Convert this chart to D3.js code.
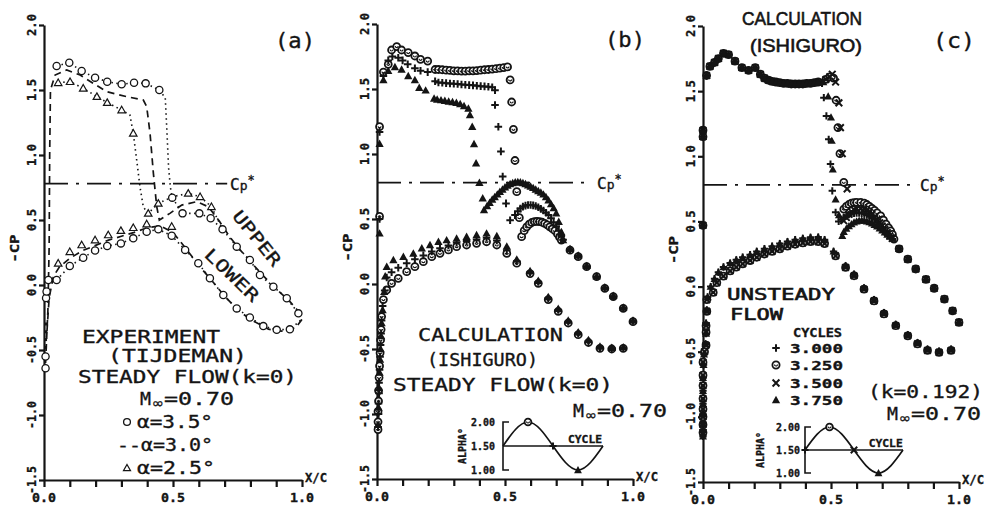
<!DOCTYPE html>
<html><head><meta charset="utf-8">
<script src="https://cdn.jsdelivr.net/npm/d3@7"></script>
<style>
body{margin:0;background:#fff}
svg{display:block}
text{font-family:"DejaVu Sans Mono","Liberation Mono",monospace;fill:#141414;stroke:#141414;stroke-width:0.35}
</style></head>
<body><svg id="chart" width="989" height="508"></svg>
<script>
// ---------------- DATA ----------------
const xTicks = [0,0.1,0.2,0.3,0.4,0.5,0.6,0.7,0.8,0.9,1.0];
const xTickLabels = {"0":"0.0","0.5":"0.5","1":"1.0"};
const yTicks = [-1.5,-1.0,-0.5,0,0.5,1.0,1.5,2.0];
const yTickLabels = ["-1.5","-1.0","-0.5","0.0","0.5","1.0","1.5","2.0"];
const cpStar = 0.78;

// Panel (a) experiment (Tijdeman)
const aCirc35Upper = [[0.049,1.685],[0.098,1.71],[0.146,1.646],[0.198,1.595],[0.245,1.564],[0.301,1.544],[0.349,1.556],[0.394,1.551],[0.447,1.50],
  [0.497,0.672],[0.537,0.551],[0.602,0.551],[0.646,0.513],[0.692,0.428],[0.747,0.295],[0.798,0.192],[0.837,0.077],[0.889,-0.013],[0.941,-0.102],[0.986,-0.218]];
const aCirc35Lower = [[0.006,-0.64],[0.006,-0.55],[0.008,-0.1],[0.01,-0.05],[0.017,0.038],[0.049,0.038],[0.1,0.146],[0.152,0.21],[0.198,0.265],[0.245,0.30],[0.298,0.32],
  [0.346,0.359],[0.398,0.41],[0.443,0.428],[0.495,0.379],[0.547,0.27],[0.598,0.167],[0.643,0.052],[0.695,-0.077],[0.747,-0.18],[0.798,-0.25],[0.85,-0.316],[0.902,-0.345],[0.953,-0.341]];
const aTri25Upper = [[0.055,1.556],[0.101,1.564],[0.152,1.513],[0.205,1.449],[0.245,1.403],[0.301,1.346],[0.346,1.167],
  [0.404,0.551],[0.443,0.628],[0.559,0.705],[0.605,0.679],[0.649,0.602]];
const aTri25Lower = [[0.055,0.167],[0.1,0.256],[0.146,0.308],[0.198,0.346],[0.249,0.385],[0.298,0.418],[0.346,0.441],[0.398,0.469],[0.495,0.45]];
const aLE25 = [[0.006,-0.3],[0.006,-0.36],[0.006,-0.42],[0.006,-0.48]];
const aDot35 = [[0.049,1.685],[0.098,1.71],[0.146,1.646],[0.198,1.595],[0.245,1.564],[0.301,1.544],[0.349,1.556],[0.394,1.551],[0.447,1.50],[0.47,1.44],
  [0.476,1.2],[0.483,0.9],[0.49,0.75],[0.497,0.672],[0.537,0.551],[0.602,0.551],[0.646,0.513],[0.692,0.428],[0.747,0.295],[0.798,0.192],[0.837,0.077],
  [0.889,-0.013],[0.941,-0.102],[0.986,-0.218],[0.995,-0.27],[0.966,-0.32],[0.953,-0.341],[0.902,-0.345],[0.85,-0.316],[0.798,-0.25],[0.747,-0.18],
  [0.695,-0.077],[0.643,0.052],[0.598,0.167],[0.547,0.27],[0.495,0.379],[0.443,0.428],[0.398,0.41],[0.346,0.359],[0.298,0.32],[0.245,0.30],[0.198,0.265],[0.152,0.21],[0.1,0.146],[0.049,0.038]];
const aDot25 = [[0.055,1.556],[0.101,1.564],[0.152,1.513],[0.205,1.449],[0.245,1.403],[0.301,1.346],[0.333,1.308],[0.346,1.167],[0.36,0.95],[0.372,0.756],
  [0.385,0.6],[0.404,0.551],[0.443,0.628],[0.5,0.68],[0.559,0.705],[0.605,0.679],[0.649,0.602],[0.692,0.428]];
const aDash30 = [[0.006,-0.6],[0.015,-0.2],[0.02,0.3],[0.022,1.0],[0.025,1.5],[0.043,1.615],[0.088,1.654],[0.14,1.615],[0.191,1.551],[0.243,1.487],[0.32,1.449],
  [0.385,1.423],[0.398,1.372],[0.411,1.167],[0.424,0.859],[0.437,0.602],[0.447,0.5],[0.488,0.551],[0.534,0.615],[0.592,0.641],[0.637,0.602],[0.68,0.49],
  [0.72,0.37],[0.76,0.27],[0.8,0.18],[0.85,0.07],[0.9,-0.03],[0.95,-0.12],[0.985,-0.2],[0.998,-0.27],[0.975,-0.33],[0.92,-0.355],[0.87,-0.34],[0.8,-0.265],
  [0.75,-0.19],[0.7,-0.085],[0.65,0.035],[0.6,0.15],[0.55,0.28],[0.5,0.405],[0.45,0.455],[0.4,0.44],[0.35,0.405],[0.3,0.375],[0.25,0.345],[0.2,0.305],
  [0.15,0.265],[0.1,0.205],[0.06,0.14],[0.036,0.064],[0.02,-0.1],[0.01,-0.4]];

// Panel (b) steady calculation (Ishiguro): ⊙ alpha 2.0, + alpha 1.5, ▲ alpha 1.0
const bCircUpper = [[0.01,0.52],[0.01,1.21],[0.025,1.63],[0.044,1.69],[0.057,1.8],[0.077,1.826],[0.096,1.8],[0.122,1.78],[0.148,1.754],[0.17,1.728],[0.198,1.715],[0.227,1.65],
  [0.24,1.65],[0.255,1.648],[0.27,1.645],[0.285,1.643],[0.3,1.64],[0.315,1.64],[0.33,1.638],[0.345,1.638],[0.36,1.64],[0.375,1.64],[0.39,1.642],[0.405,1.645],
  [0.42,1.648],[0.435,1.65],[0.45,1.653],[0.465,1.656],[0.48,1.66],[0.495,1.665],[0.51,1.67],
  [0.52,1.57],[0.526,1.4],[0.533,1.19],[0.539,0.95],[0.546,0.71],[0.556,0.51],
  [0.565,0.364],[0.575,0.41],[0.585,0.44],[0.595,0.46],[0.605,0.473],[0.615,0.48],[0.625,0.481],[0.635,0.48],[0.645,0.475],[0.655,0.466],[0.665,0.455],
  [0.675,0.44],[0.685,0.425],[0.695,0.41],[0.705,0.385],[0.713,0.36],[0.72,0.338],
  [0.754,0.26],[0.786,0.21],[0.819,0.133],[0.858,0.056],[0.89,-0.033],[0.923,-0.097],[0.962,-0.187],[1.0,-0.29]];
const bPlusUpper = [[0.01,0.5],[0.01,1.17],[0.025,1.6],[0.044,1.72],[0.06,1.75],[0.083,1.74],[0.1,1.72],[0.12,1.69],[0.148,1.66],[0.17,1.64],[0.198,1.63],[0.227,1.56],
  [0.24,1.55],[0.255,1.548],[0.27,1.545],[0.285,1.543],[0.3,1.54],[0.315,1.538],[0.33,1.535],[0.345,1.533],[0.36,1.53],[0.375,1.528],[0.39,1.525],[0.405,1.522],
  [0.42,1.52],[0.435,1.517],[0.45,1.513],
  [0.461,1.49],[0.461,1.377],[0.474,1.21],[0.484,1.02],[0.491,0.826],[0.504,0.62],[0.52,0.49],
  [0.539,0.53],[0.55,0.56],[0.56,0.58],[0.57,0.595],[0.58,0.603],[0.59,0.607],[0.6,0.608],[0.61,0.605],[0.62,0.6],[0.63,0.59],[0.64,0.578],[0.65,0.565],
  [0.66,0.548],[0.67,0.53],[0.68,0.505],[0.69,0.475],[0.7,0.445],[0.71,0.41],[0.72,0.37],[0.727,0.34],
  [0.754,0.265],[0.786,0.215],[0.819,0.137],[0.858,0.058],[0.89,-0.03],[0.923,-0.094],[0.962,-0.184],[1.0,-0.285]];
const bTriUpper = [[0.01,0.39],[0.01,1.08],[0.025,1.57],[0.044,1.64],[0.07,1.67],[0.096,1.65],[0.122,1.6],[0.148,1.57],[0.165,1.51],[0.19,1.49],[0.223,1.428],
  [0.235,1.42],[0.25,1.415],[0.265,1.41],[0.28,1.405],[0.295,1.4],[0.31,1.395],[0.325,1.385],[0.34,1.37],[0.357,1.35],
  [0.363,1.3],[0.372,1.21],[0.379,1.077],[0.387,0.93],[0.4,0.78],[0.413,0.66],[0.418,0.57],
  [0.43,0.6],[0.44,0.625],[0.45,0.65],[0.46,0.67],[0.47,0.69],[0.48,0.71],[0.49,0.728],[0.5,0.745],[0.51,0.758],[0.52,0.77],[0.53,0.778],[0.54,0.784],
  [0.55,0.786],[0.56,0.783],[0.57,0.778],[0.58,0.77],[0.59,0.76],[0.6,0.75],[0.61,0.74],[0.62,0.728],[0.63,0.716],[0.64,0.705],[0.65,0.69],[0.66,0.67],
  [0.67,0.645],[0.68,0.615],[0.69,0.585],[0.7,0.545],[0.71,0.48],[0.72,0.4],[0.727,0.338],
  [0.754,0.27],[0.786,0.22],[0.819,0.14],[0.858,0.06],[0.89,-0.025],[0.923,-0.09],[0.962,-0.18],[1.0,-0.28]];
const bCircLower = [[0.004,-1.12],[0.004,-1.06],[0.004,-0.98],[0.006,-0.9],[0.006,-0.82],[0.008,-0.72],[0.01,-0.63],[0.012,-0.53],[0.014,-0.43],[0.016,-0.35],
  [0.018,-0.25],[0.025,-0.12],[0.038,-0.046],[0.057,0.005],[0.083,0.044],[0.116,0.095],[0.148,0.133],[0.181,0.172],[0.214,0.21],[0.246,0.236],[0.279,0.262],
  [0.311,0.287],[0.35,0.3],[0.389,0.313],[0.428,0.325],[0.468,0.3],[0.507,0.235],[0.546,0.16],[0.598,0.08],[0.63,0.005],[0.669,-0.12],[0.708,-0.21],
  [0.747,-0.3],[0.786,-0.39],[0.826,-0.45],[0.871,-0.495],[0.917,-0.5],[0.962,-0.495]];
const bPlusLower = [[0.004,-1.1],[0.006,-1.0],[0.006,-0.92],[0.008,-0.84],[0.008,-0.76],[0.01,-0.66],[0.012,-0.56],[0.014,-0.47],[0.016,-0.38],[0.018,-0.28],
  [0.022,-0.17],[0.03,-0.05],[0.038,0.05],[0.057,0.09],[0.083,0.125],[0.116,0.16],[0.148,0.19],[0.181,0.22],[0.214,0.25],[0.246,0.275],[0.279,0.297],
  [0.311,0.317],[0.35,0.33],[0.389,0.343],[0.428,0.355],[0.468,0.335],[0.507,0.26],[0.546,0.175],[0.598,0.09],[0.63,0.015],[0.669,-0.11],[0.708,-0.2],
  [0.747,-0.29],[0.786,-0.38],[0.826,-0.44],[0.871,-0.488],[0.917,-0.495],[0.962,-0.49]];
const bTriLower = [[0.004,-1.08],[0.006,-0.95],[0.008,-0.8],[0.01,-0.68],[0.012,-0.58],[0.014,-0.5],[0.016,-0.4],[0.018,-0.3],[0.022,-0.2],[0.028,-0.06],
  [0.032,0.06],[0.038,0.133],[0.064,0.185],[0.103,0.21],[0.142,0.236],[0.175,0.275],[0.207,0.3],[0.24,0.325],[0.272,0.338],[0.311,0.351],[0.35,0.364],
  [0.389,0.377],[0.428,0.39],[0.468,0.37],[0.507,0.29],[0.546,0.19],[0.598,0.1],[0.63,0.025],[0.669,-0.1],[0.708,-0.19],[0.747,-0.28],[0.786,-0.37],
  [0.826,-0.43],[0.871,-0.48],[0.917,-0.49],[0.962,-0.485]];

// Panel (c) unsteady: cycles 3.000 (+), 3.250 (⊙), 3.500 (×), 3.750 (▲)
const cUpperFront = [[0.0,0.47],[0.0,1.15],[0.0,1.2],[0.014,1.62],[0.027,1.69],[0.045,1.72],[0.06,1.75],[0.08,1.79],[0.1,1.78],[0.125,1.73],[0.152,1.68],
  [0.178,1.66],[0.204,1.68],[0.224,1.63],[0.24,1.6],[0.255,1.585],[0.27,1.575],[0.285,1.57],[0.3,1.565],[0.315,1.56],[0.33,1.56],[0.345,1.555],[0.36,1.555],
  [0.375,1.555],[0.39,1.555],[0.405,1.56],[0.42,1.56],[0.435,1.565],[0.45,1.57]];
const cPlusShock = [[0.465,1.56],[0.472,1.45],[0.482,1.31],[0.491,1.13],[0.498,0.94],[0.505,0.735],[0.518,0.57],[0.53,0.5],[0.54,0.515],[0.55,0.53],[0.56,0.542],
  [0.57,0.552],[0.58,0.558],[0.59,0.562],[0.6,0.564],[0.61,0.564],[0.62,0.562],[0.63,0.557],[0.64,0.55],[0.65,0.54],[0.66,0.527],[0.67,0.512],[0.68,0.494],
  [0.69,0.474],[0.7,0.452],[0.71,0.43],[0.72,0.408],[0.73,0.386],[0.74,0.366]];
const cCircShock = [[0.48,1.59],[0.495,1.61],[0.51,1.6],[0.52,1.43],[0.527,1.22],[0.535,1.02],[0.55,0.8],[0.55,0.595],[0.56,0.615],[0.57,0.63],[0.58,0.64],
  [0.59,0.645],[0.6,0.647],[0.616,0.646],[0.63,0.64],[0.64,0.63],[0.65,0.615],[0.66,0.6],[0.67,0.585],[0.68,0.565],[0.694,0.543],[0.705,0.51],[0.715,0.48],
  [0.725,0.45],[0.733,0.428],[0.74,0.4],[0.746,0.365]];
const cCrossShock = [[0.48,1.59],[0.495,1.61],[0.505,1.63],[0.518,1.57],[0.531,1.41],[0.537,1.22],[0.544,1.02],[0.563,0.75],[0.55,0.505],[0.56,0.53],[0.57,0.555],
  [0.58,0.575],[0.59,0.59],[0.6,0.598],[0.616,0.6],[0.63,0.595],[0.64,0.585],[0.65,0.57],[0.66,0.555],[0.67,0.535],[0.68,0.515],[0.69,0.49],[0.7,0.465],
  [0.71,0.44],[0.72,0.415],[0.73,0.39],[0.74,0.37]];
const cTriShock = [[0.47,1.57],[0.489,1.46],[0.5,1.3],[0.503,1.12],[0.507,0.9],[0.518,0.67],[0.531,0.55],[0.544,0.39],[0.55,0.42],[0.56,0.445],[0.57,0.465],
  [0.58,0.48],[0.59,0.493],[0.6,0.502],[0.61,0.507],[0.62,0.508],[0.63,0.506],[0.64,0.502],[0.65,0.495],[0.66,0.486],[0.67,0.475],[0.68,0.462],[0.69,0.448],
  [0.7,0.433],[0.71,0.417],[0.72,0.4],[0.73,0.385],[0.74,0.368]];
const cUpperTE = [[0.766,0.29],[0.8,0.21],[0.831,0.135],[0.871,0.055],[0.903,-0.013],[0.943,-0.096],[0.975,-0.186],[1.0,-0.275]];
const cLowerHigh = [[0.0,-1.15],[0.0,-1.1],[0.0,-1.05],[0.0,-0.98],[0.0,-0.9],[0.0,-0.8],[0.0,-0.7],[0.002,-0.6],[0.004,-0.52],[0.01,-0.44],[0.012,-0.36],
  [0.012,-0.28],[0.015,-0.18],[0.018,-0.08],[0.03,0.0],[0.045,0.06],[0.06,0.11],[0.08,0.15],[0.106,0.18],[0.13,0.205],[0.155,0.225],[0.184,0.245],[0.21,0.27],
  [0.24,0.29],[0.27,0.31],[0.3,0.33],[0.33,0.345],[0.36,0.36],[0.39,0.37],[0.42,0.378],[0.45,0.38],[0.475,0.36],[0.51,0.27],[0.557,0.16],[0.59,0.095],
  [0.629,-0.01],[0.668,-0.1],[0.707,-0.2],[0.753,-0.29],[0.8,-0.37],[0.838,-0.43],[0.877,-0.48],[0.922,-0.495],[0.969,-0.48]];
const cLowerLow = [[0.0,-1.12],[0.0,-1.06],[0.0,-1.0],[0.0,-0.94],[0.0,-0.86],[0.0,-0.76],[0.0,-0.68],[0.0,-0.58],[0.006,-0.5],[0.012,-0.45],[0.012,-0.35],
  [0.012,-0.3],[0.015,-0.19],[0.015,-0.1],[0.04,-0.045],[0.054,0.03],[0.08,0.08],[0.106,0.12],[0.13,0.15],[0.155,0.175],[0.184,0.2],[0.21,0.225],[0.24,0.25],
  [0.27,0.27],[0.3,0.29],[0.33,0.31],[0.36,0.325],[0.39,0.335],[0.42,0.345],[0.45,0.345],[0.475,0.33],[0.518,0.236],[0.557,0.147],[0.59,0.083],[0.629,-0.02],
  [0.668,-0.11],[0.707,-0.21],[0.753,-0.3],[0.8,-0.378],[0.838,-0.44],[0.877,-0.49],[0.922,-0.505],[0.969,-0.49]];

// Inset: incidence cycle
const insetCycle = [3.0,3.25,3.5,3.75,4.0];
const insetAlpha = [1.5,2.0,1.5,1.0,1.5];
const insetTicks = [1.0,1.5,2.0];
const insetTickLabels = ["1.00","1.50","2.00"];
const cycleLegend = ["3.000","3.250","3.500","3.750"];

// ---------------- DRAWING ----------------
const svg = d3.select("#chart");
const INK = "#141414";

const layout = {
  a:{x0:44,x1:302,yT:25,yB:480},
  b:{x0:377,x1:633,yT:24,yB:479},
  c:{x0:703,x1:959,yT:26,yB:482}
};

function applyOpt(t, opt, size){
  if(opt.width){ t.attr("textLength",opt.width).attr("lengthAdjust","spacingAndGlyphs"); }
  if(opt.bold) t.attr("font-weight","bold");
  if(opt.family) t.style("font-family",opt.family);
  if(opt.sw!==undefined) t.style("stroke-width",opt.sw);
}
function txt(g, s, left, cy, opt={}){
  const size = opt.size || 18;
  const t = g.append("text").attr("x",left).attr("y",cy + size*0.36).attr("font-size",size).text(s);
  applyOpt(t,opt,size);
  if(opt.anchor) t.attr("text-anchor",opt.anchor);
  return t;
}
function block(g, pieces, size, opt={}){
  const t = g.append("text").attr("font-size",size);
  applyOpt(t,{bold:opt.bold,family:opt.family,sw:opt.sw},size);
  pieces.forEach(p=>{
    const sp = t.append("tspan").attr("x",p[1]).attr("y",p[2]+size*0.36).text(p[0]);
    if(p[3]) sp.attr("textLength",p[3]).attr("lengthAdjust","spacingAndGlyphs");
  });
  return t;
}

function marker(g, type, cx, cy, s){
  s = s || 3.6;
  if(type==="oc"){
    g.append("circle").attr("cx",cx).attr("cy",cy).attr("r",s).attr("fill","#fff").attr("stroke",INK).attr("stroke-width",1.3);
  } else if(type==="ot"){
    const h=s*1.1;
    g.append("path").attr("d",`M${cx},${cy-h}L${cx+h},${cy+h*0.75}L${cx-h},${cy+h*0.75}Z`).attr("fill","#fff").attr("stroke",INK).attr("stroke-width",1.2);
  } else if(type==="dc"){
    g.append("circle").attr("cx",cx).attr("cy",cy).attr("r",s).attr("fill","#fff").attr("stroke",INK).attr("stroke-width",1.8);
    g.append("path").attr("d",`M${cx-1.5},${cy-0.5}A1.5,1.5 0 0 0 ${cx+1.5},${cy-0.5}`).attr("fill","none").attr("stroke",INK).attr("stroke-width",1.2);
  } else if(type==="p"){
    const h=s*1.05;
    g.append("path").attr("d",`M${cx-h},${cy}H${cx+h}M${cx},${cy-h}V${cy+h}`).attr("stroke",INK).attr("stroke-width",2);
  } else if(type==="x"){
    const h=s*0.95;
    g.append("path").attr("d",`M${cx-h},${cy-h}L${cx+h},${cy+h}M${cx-h},${cy+h}L${cx+h},${cy-h}`).attr("stroke",INK).attr("stroke-width",2);
  } else if(type==="ft"){
    const h=s*1.15;
    g.append("path").attr("d",`M${cx},${cy-h}L${cx+h},${cy+h*0.8}L${cx-h},${cy+h*0.8}Z`).attr("fill",INK);
  } else if(type==="sq"){
    g.append("rect").attr("x",cx-s/2).attr("y",cy-s/2).attr("width",s).attr("height",s).attr("fill",INK);
  }
}

function makePanel(key){
  const L = layout[key];
  const x = d3.scaleLinear().domain([0,1]).range([L.x0,L.x1]);
  const y = d3.scaleLinear().domain([-1.5,2]).range([L.yB,L.yT]);
  const g = svg.append("g");
  const xa = g.append("g").attr("transform",`translate(0,${L.yB})`)
    .call(d3.axisBottom(x).tickValues(xTicks).tickSize(7).tickSizeOuter(0).tickFormat(""));
  xa.select(".domain").attr("stroke",INK).attr("stroke-width",2.2);
  xa.selectAll(".tick line").attr("stroke",INK).attr("stroke-width",2.2);
  Object.keys(xTickLabels).forEach(k=>{
    g.append("text").attr("x",x(+k)).attr("y",L.yB+22).attr("text-anchor","middle")
      .attr("font-size",13).attr("font-weight","bold").attr("textLength",24).attr("lengthAdjust","spacingAndGlyphs").text(xTickLabels[k]);
  });
  const ya = g.append("g").attr("transform",`translate(${L.x0},0)`)
    .call(d3.axisLeft(y).tickValues(yTicks).tickSize(5).tickSizeOuter(0).tickFormat(""));
  ya.select(".domain").attr("stroke",INK).attr("stroke-width",2.2);
  ya.selectAll(".tick line").attr("stroke",INK).attr("stroke-width",2.2);
  yTicks.forEach((v,i)=>{
    const lx = L.x0-13, ly = y(v);
    g.append("text").attr("transform",`translate(${lx+4.5},${ly}) rotate(-90)`).attr("text-anchor","middle")
      .attr("font-size",13).attr("font-weight","bold")
      .attr("textLength", yTickLabels[i].length>3?28:22).attr("lengthAdjust","spacingAndGlyphs").text(yTickLabels[i]);
  });
  g.append("text").attr("transform",`translate(${L.x0-25},${y(0.28)}) rotate(-90)`).attr("text-anchor","middle")
    .attr("font-size",13).attr("font-weight","bold").attr("textLength",28).attr("lengthAdjust","spacingAndGlyphs").text("-CP");
  txt(g,"X/C",L.x1+3,L.yB-3,{size:13,bold:true,width:22});
  return {g,x,y,L};
}

function cpLine(P, xEnd, labelLeft){
  const line = d3.line().x(d=>P.x(d[0])).y(d=>P.y(d[1]));
  P.g.append("path").attr("d",line([[0,cpStar],[xEnd,cpStar]])).attr("fill","none")
    .attr("stroke",INK).attr("stroke-width",1.7).attr("stroke-dasharray","24,8,3,8");
  const t = P.g.append("text").attr("x",labelLeft).attr("y",P.y(cpStar)+6).attr("font-size",16);
  t.append("tspan").text("C");
  t.append("tspan").attr("font-size",13).text("p");
  t.append("tspan").attr("font-size",12).attr("dy",-6).text("*");
}

function series(P, data, type, s){
  data.forEach(d=>marker(P.g, type, P.x(d[0]), P.y(d[1]), s));
}

function mach(g, left, cy){
  const t = g.append("text").attr("font-size",18);
  t.append("tspan").attr("x",left).attr("y",cy+6.5).attr("textLength",11).attr("lengthAdjust","spacingAndGlyphs").text("M");
  t.append("tspan").attr("x",left+12).attr("y",cy+10).attr("font-size",14).style("font-family","DejaVu Sans")
    .attr("textLength",12).attr("lengthAdjust","spacingAndGlyphs").text("∞");
  t.append("tspan").attr("x",left+24).attr("y",cy+6.5).attr("textLength",70).attr("lengthAdjust","spacingAndGlyphs").text("=0.70");
}

// ===== Panel (a) =====
const A = makePanel("a");
cpLine(A, 0.71, 230);
const lineA = d3.line().x(d=>A.x(d[0])).y(d=>A.y(d[1]));
A.g.append("path").attr("d",lineA(aDash30)).attr("fill","none").attr("stroke",INK).attr("stroke-width",1.7).attr("stroke-dasharray","7,5");
A.g.append("path").attr("d",lineA(aDot35)).attr("fill","none").attr("stroke",INK).attr("stroke-width",1.6).attr("stroke-dasharray","1.5,3.5");
A.g.append("path").attr("d",lineA(aDot25)).attr("fill","none").attr("stroke",INK).attr("stroke-width",1.6).attr("stroke-dasharray","1.5,3.5");
series(A, aLE25, "sq", 3);
series(A, aTri25Upper, "ot", 3.4);
series(A, aTri25Lower, "ot", 3.4);
series(A, aCirc35Upper, "oc", 3.6);
series(A, aCirc35Lower, "oc", 3.6);
txt(A.g,"(a)",275,40,{size:21,width:40});
block(A.g,[["EXPERIMENT",82,337,138],["(TIJDEMAN)",108,356,139],["STEADY FLOW(k=0)",78,377,219]],18);
mach(A.g,140,398);
marker(A.g,"oc",127,422,3.4);
marker(A.g,"ot",127,468,3.2);
block(A.g,[["α=3.5°",137,422,76],["--α=3.0°",117,445,96],["α=2.5°",137,468,78]],18);
A.g.append("text").attr("transform","translate(257,238) rotate(51)").attr("text-anchor","middle").attr("y",6)
  .attr("font-size",17).attr("textLength",66).attr("lengthAdjust","spacingAndGlyphs").text("UPPER");
A.g.append("text").attr("transform","translate(232,275) rotate(44)").attr("text-anchor","middle").attr("y",6)
  .attr("font-size",17).attr("textLength",68).attr("lengthAdjust","spacingAndGlyphs").text("LOWER");

// ===== Panel (b) =====
const B = makePanel("b");
cpLine(B, 0.83, 597);
series(B, bCircUpper, "dc", 3.5);
series(B, bCircLower, "dc", 3.5);
series(B, bPlusUpper, "p", 3.6);
series(B, bPlusLower, "p", 3.6);
series(B, bTriUpper, "ft", 3.6);
series(B, bTriLower, "ft", 3.6);
txt(B.g,"(b)",605,39,{size:21,width:40});
block(B.g,[["CALCULATION",418,335,145],["(ISHIGURO)",427,360,111],["STEADY FLOW(k=0)",393,385,220]],18);
mach(B.g,573,410);

function inset(g, x0, w, yTop, yBot, labelRight, alphaX, marks){
  const ix = d3.scaleLinear().domain([3.0,4.0]).range([x0,x0+w]);
  const iy = d3.scaleLinear().domain([1.0,2.0]).range([yBot,yTop]);
  g.append("path").attr("d",`M${x0+6},${iy(2.0)}H${x0}V${iy(1.0)}H${x0+6}`).attr("fill","none").attr("stroke",INK).attr("stroke-width",1.6);
  g.append("line").attr("x1",ix(3.0)).attr("x2",ix(4.0)).attr("y1",iy(1.5)).attr("y2",iy(1.5)).attr("stroke",INK).attr("stroke-width",1.5);
  const ln = d3.line().x((d,i)=>ix(insetCycle[i])).y((d,i)=>iy(insetAlpha[i])).curve(d3.curveNatural);
  g.append("path").attr("d",ln(insetCycle)).attr("fill","none").attr("stroke",INK).attr("stroke-width",1.7);
  const lt = g.append("text").attr("font-size",11).attr("font-weight","bold").attr("text-anchor","end");
  insetTicks.forEach((v,i)=>{
    lt.append("tspan").attr("x",labelRight).attr("y",iy(v)+4).attr("textLength",24).attr("lengthAdjust","spacingAndGlyphs").text(insetTickLabels[i]);
  });
  g.append("text").attr("transform",`translate(${alphaX},${iy(1.5)}) rotate(-90)`).attr("text-anchor","middle")
    .attr("font-size",11).attr("font-weight","bold").attr("textLength",36).attr("lengthAdjust","spacingAndGlyphs").text("ALPHA°");
  g.append("text").attr("x",ix(3.65)).attr("y",iy(1.5)-3).attr("font-size",11).attr("font-weight","bold")
    .attr("textLength",34).attr("lengthAdjust","spacingAndGlyphs").text("CYCLE");
  marks.forEach(m=>{ if(m[1]) marker(g, m[1], ix(insetCycle[m[0]]), iy(insetAlpha[m[0]]), 3.4); });
}
inset(B.g, 503, 100, 422, 470, 495, 466, [[1,"dc"],[2,"p"],[3,"ft"]]);

// ===== Panel (c) =====
const C = makePanel("c");
cpLine(C, 0.84, 920);
[["dc",cCircShock,cLowerLow],["x",cCrossShock,cLowerLow],["p",cPlusShock,cLowerHigh],["ft",cTriShock,cLowerHigh]].forEach(s=>{
  series(C, cUpperFront, s[0], 3.5);
  series(C, s[1], s[0], 3.5);
  series(C, cUpperTE, s[0], 3.5);
  series(C, s[2], s[0], 3.5);
});
block(C.g,[["CALCULATION",742,18,120],["(ISHIGURO)",750,45,112]],19,{family:"Liberation Sans",sw:0.6});
txt(C.g,"(c)",933,40,{size:21,width:42});
block(C.g,[["UNSTEADY",727,294,108],["FLOW",730,314,53]],16,{sw:0.6});
const cyc = [348,365,383,400];
block(C.g,[["CYCLES",793,332,49]].concat(cycleLegend.map((s,i)=>[s,790,cyc[i],53])),13,{bold:true});
["p","dc","x","ft"].forEach((m,i)=> marker(C.g,m,776,cyc[i],3.6));
txt(C.g,"(k=0.192)",868,392,{width:115});
mach(C.g,887,413);
inset(C.g, 805, 98, 427, 473, 800, 764, [[0,"p"],[1,"dc"],[2,"x"],[3,"ft"]]);
</script></body></html>
